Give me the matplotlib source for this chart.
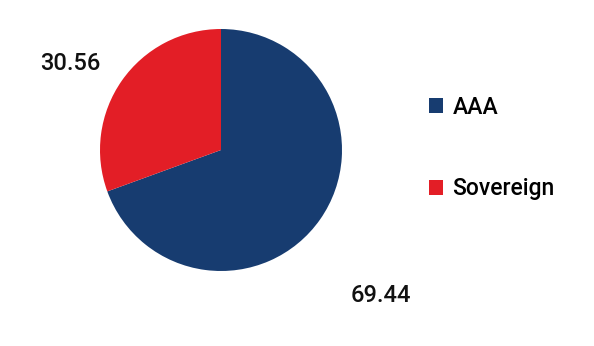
import matplotlib
matplotlib.use("Agg")
import matplotlib.pyplot as plt
from matplotlib.patches import Patch

plt.rcParams['font.family'] = ['Roboto', 'DejaVu Sans']

categories = ["AAA", "Sovereign"]
values = [69.44, 30.56]
value_labels = ["69.44", "30.56"]
colors = ["#173c70", "#e31e26"]

fig = plt.figure(figsize=(5.94, 3.46), dpi=100)
ax = fig.add_axes([0, 0, 1, 1])

cx, cy, r = 221, 346 - 150, 121
wedges, _ = ax.pie(values, colors=colors, startangle=90, counterclock=False,
                   center=(cx, cy), radius=r, frame=True,
                   wedgeprops=dict(linewidth=0))
ax.set_xlim(0, 594)
ax.set_ylim(0, 346)
ax.set_aspect('equal')
ax.axis('off')

label_pos = [(381, 346 - 296), (70, 346 - 63)]
for (x, y), t in zip(label_pos, value_labels):
    ax.text(x, y, t, ha='center', va='center', fontsize=17, fontweight='medium', color='#111111')

handles = [Patch(facecolor=c, edgecolor='none') for c in colors]
leg = ax.legend(handles, categories, loc='center left', bbox_to_anchor=(429/594, 1 - 148/346),
                frameon=False, prop=dict(size=16.5, weight='medium'), labelspacing=2.55,
                handlelength=0.62, handleheight=0.62, handletextpad=0.4,
                borderpad=0, borderaxespad=0)

fig.savefig("out.png", dpi=100)
